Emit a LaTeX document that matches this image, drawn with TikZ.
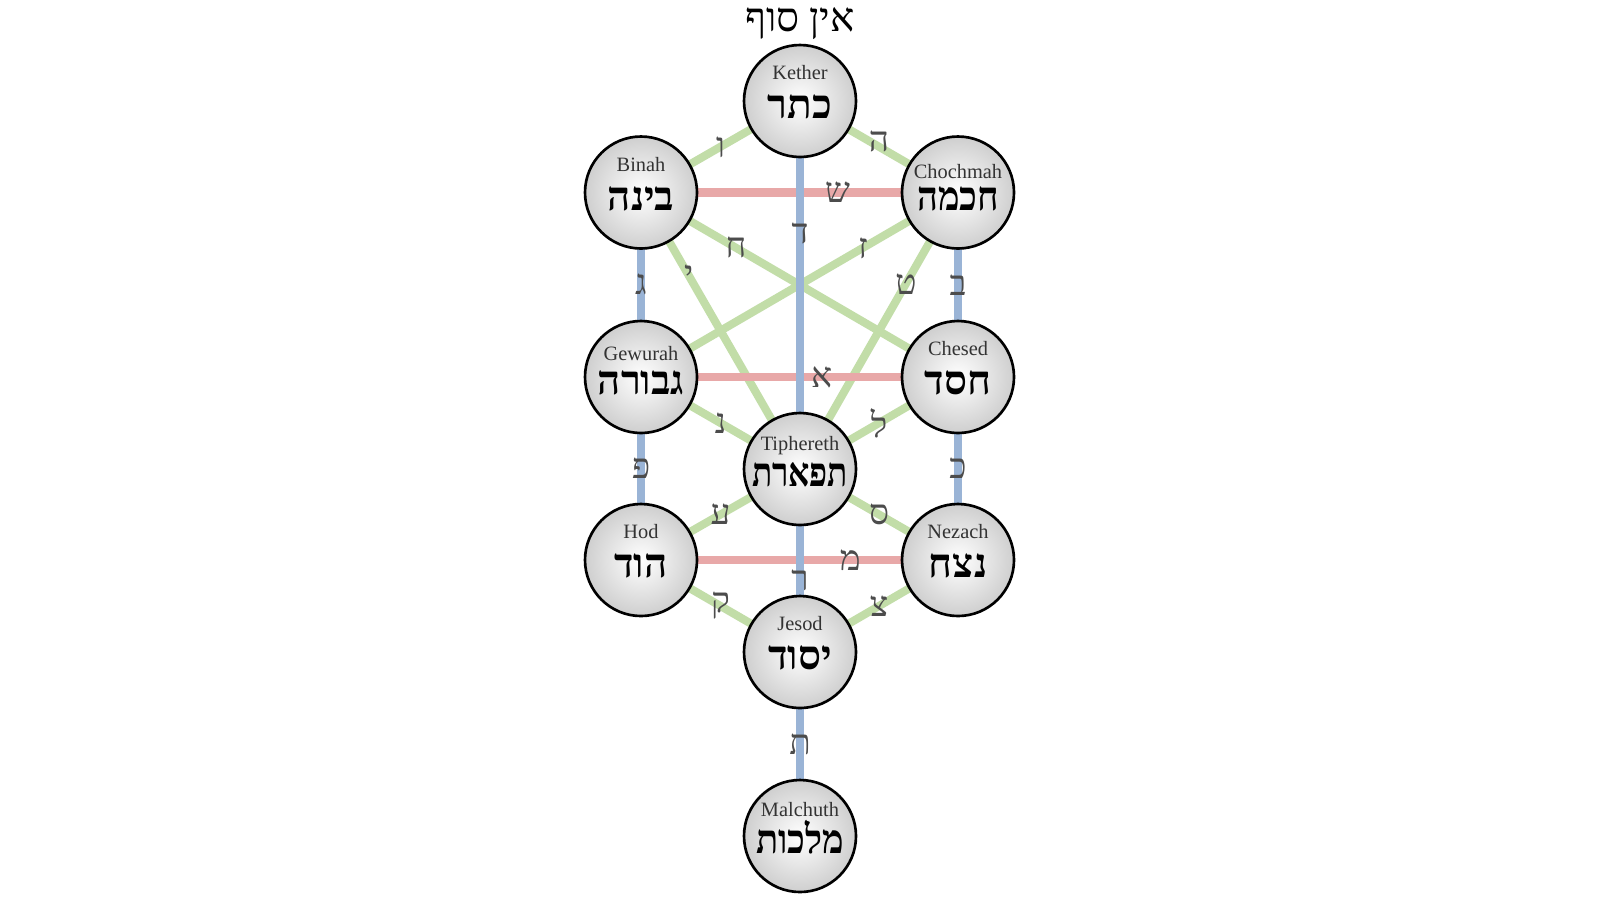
\documentclass[tikz,border=0pt]{standalone}
\usepackage{fontspec}
\setmainfont{Liberation Serif}
\newfontfamily\hebfont[Script=Hebrew]{Liberation Serif}
\TeXXeTstate=1
\usetikzlibrary{backgrounds}
\newcommand{\heb}[1]{{\hebfont\beginR #1\endR}}
\newcommand{\hebnarrow}[2]{\scalebox{#1}[1]{\heb{#2}}}
\definecolor{simplegreen}{HTML}{C2DDA8}
\definecolor{doubleblue}{HTML}{9AB4D6}
\definecolor{motherred}{HTML}{E8A8A8}

\begin{document}
\begin{tikzpicture}
        [sephira/.style={circle, draw, line width=0.75pt, minimum size=1.12cm, inner sep=0pt,
            inner color=white, outer color=black!19, text height=0.35cm, text depth=0cm,
            font=\fontsize{11.5}{13}\selectfont\bfseries},
        latin/.style={font=\fontsize{5.8}{7}\selectfont, text=black!80, yshift=0.28cm},
        letter/.style={font=\fontsize{10}{11}\selectfont, text=black!70},
        simples/.style={simplegreen, line width=2.3pt},
        doubles/.style={doubleblue, line width=2.3pt},
        mothers/.style={motherred, line width=2.3pt}]

        \useasboundingbox (0,0) rectangle (16,-9);

        \node[font=\fontsize{11.5}{13}\selectfont] (einsof) at (8.00,-0.24) {\heb{אין סוף}};

        % the ten sephiroth
        \node[sephira, label={[latin]center:Kether}] (kether) at (8.00,-1.01) {\heb{כתר}};
        \node[sephira, label={[latin]center:Binah}] (binah) at (6.41,-1.925) {\heb{בינה}};
        \node[sephira, label={[latin,yshift=-0.07cm]center:Chochmah}] (chochmah) at (9.58,-1.925) {\hebnarrow{0.9}{חכמה}};
        \node[sephira, label={[latin,yshift=-0.05cm]center:Gewurah}] (gewurah) at (6.41,-3.77) {\heb{גבורה}};
        \node[sephira, label={[latin]center:Chesed}] (chesed) at (9.58,-3.77) {\heb{חסד}};
        \node[sephira, label={[latin,yshift=-0.05cm]center:Tiphereth}] (tiphereth) at (8.00,-4.69) {\hebnarrow{0.82}{תפארת}};
        \node[sephira, label={[latin]center:Hod}] (hod) at (6.41,-5.60) {\heb{הוד}};
        \node[sephira, label={[latin]center:Nezach}] (nezach) at (9.58,-5.60) {\heb{נצח}};
        \node[sephira, label={[latin]center:Jesod}] (jesod) at (8.00,-6.52) {\heb{יסוד}};
        \node[sephira, label={[latin,yshift=-0.02cm]center:Malchuth}] (malchuth) at (8.00,-8.36) {\hebnarrow{0.9}{מלכות}};

        \begin{scope}[on background layer]
        \fill[white] (0,0) rectangle (16,-9);

        % simple letters (green)
        \draw[simples] (kether.center) -- node[letter] {\heb{ו}} (binah.center);
        \draw[simples] (kether.center) -- node[letter, yshift=0.05cm] {\heb{ה}} (chochmah.center);
        \draw[simples] (binah.center) -- node[letter, pos=0.3] {\heb{ח}} (chesed.center);
        \draw[simples] (chochmah.center) -- node[letter, pos=0.3] {\heb{ז}} (gewurah.center);
        \draw[simples] (binah.center) -- node[letter, pos=0.3] {\heb{י}} (tiphereth.center);
        \draw[simples] (chochmah.center) -- node[letter, pos=0.33] {\heb{ט}} (tiphereth.center);
        \draw[simples] (gewurah.center) -- node[letter] {\heb{נ}} (tiphereth.center);
        \draw[simples] (chesed.center) -- node[letter] {\heb{ל}} (tiphereth.center);
        \draw[simples] (tiphereth.center) -- node[letter] {\heb{ע}} (hod.center);
        \draw[simples] (tiphereth.center) -- node[letter] {\heb{ס}} (nezach.center);
        \draw[simples] (hod.center) -- node[letter] {\heb{ק}} (jesod.center);
        \draw[simples] (nezach.center) -- node[letter] {\heb{צ}} (jesod.center);

        % mother letters (red)
        \draw[mothers] (binah.center) -- node[letter, pos=0.62] {\heb{ש}} (chochmah.center);
        \draw[mothers] (gewurah.center) -- node[letter, pos=0.57] {\heb{א}} (chesed.center);
        \draw[mothers] (hod.center) -- node[letter, pos=0.66] {\heb{מ}} (nezach.center);

        % double letters (blue)
        \draw[doubles] (kether.center) -- node[letter, pos=0.36] {\heb{ד}} (tiphereth.center);
        \draw[doubles] (binah.center) -- node[letter] {\heb{ג}} (gewurah.center);
        \draw[doubles] (chochmah.center) -- node[letter] {\heb{ב}} (chesed.center);
        \draw[doubles] (gewurah.center) -- node[letter] {\heb{פ}} (hod.center);
        \draw[doubles] (chesed.center) -- node[letter] {\heb{כ}} (nezach.center);
        \draw[doubles] (tiphereth.center) -- node[letter, pos=0.61] {\heb{ר}} (jesod.center);
        \draw[doubles] (jesod.center) -- node[letter] {\heb{ת}} (malchuth.center);
        \end{scope}

\end{tikzpicture}
\end{document}
